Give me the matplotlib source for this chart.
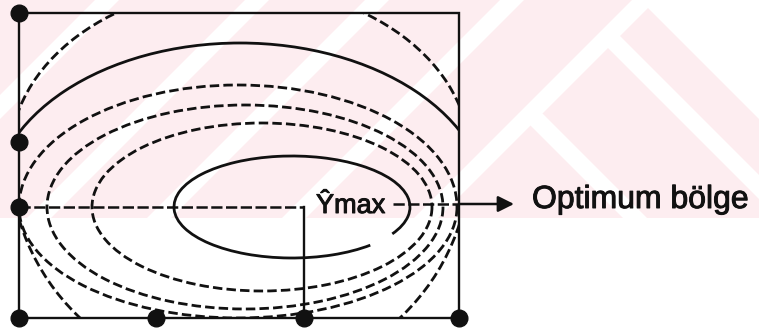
import matplotlib
matplotlib.use('Agg')
import matplotlib.pyplot as plt
import matplotlib.patheffects as pe
from matplotlib.patches import Arc, Rectangle, Polygon

# response surface contours (pixel-like units, y grows downwards)
# centre x, centre y, half width, half height, start/end angle, dashed?
arc_cx = [292, 262, 245, 238, 238, 240, 240, 240]
arc_cy = [207, 207, 207, 207, 207, 207, 157, 157]
arc_rx = [118, 170, 198, 219, 219, 248, 230, 230]
arc_ry = [51, 84, 102, 122, 111, 164, 171, 224]
arc_t1 = [26, 0, 0, 180, 0, 180, 180, 0]
arc_t2 = [15, 360, 360, 360, 180, 360, 360, 180]
arc_dashed = [False, True, True, True, True, False, True, True]

# design points on the frame
pts_x = [19, 19, 19, 19, 156, 304, 459]
pts_y = [13, 142, 207, 318, 318, 318, 318]

box_x = [19, 459]
box_y = [13, 318]

opt_x, opt_y = 304, 207

# faint pink watermark stripes (x + y = c) and (y - x = d)
wm_c = [95, 245, 365, 500, 632]
wm_d = [-560, -405]

ink = '#111111'

fig = plt.figure(figsize=(7.59, 3.31), dpi=100)
ax = fig.add_axes([0, 0, 1, 1])
ax.set_xlim(0, 759)
ax.set_ylim(331, 0)
ax.axis('off')

# watermark
wm_rect = Rectangle((0, 0), 759, 218, facecolor='#fdedf0', edgecolor='none', zorder=0)
ax.add_patch(wm_rect)
for c in wm_c:
    p = Polygon([(c, 0), (c + 24, 0), (c + 24 - 218, 218), (c - 218, 218)],
                facecolor='white', edgecolor='none', zorder=0.5)
    ax.add_patch(p)
    p.set_clip_path(wm_rect)
for d in wm_d:
    x0 = (632 - d) / 2
    p = Polygon([(x0, x0 + d), (x0 + 400, x0 + 400 + d), (x0 + 424, x0 + 400 + d), (x0 + 24, x0 + d)],
                facecolor='white', edgecolor='none', zorder=0.5)
    ax.add_patch(p)
    p.set_clip_path(wm_rect)
ax.add_patch(Polygon([(640, 0), (759, 0), (759, 119)], facecolor='white', edgecolor='none', zorder=0.5))

# frame
frame = Rectangle((box_x[0], box_y[0]), box_x[1] - box_x[0], box_y[1] - box_y[0],
                  fill=False, edgecolor=ink, lw=1.7, zorder=3)
ax.add_patch(frame)

# contours
for i in range(len(arc_cx)):
    ls = (0, (3.4, 1.5)) if arc_dashed[i] else '-'
    a = Arc((arc_cx[i], arc_cy[i]), 2 * arc_rx[i], 2 * arc_ry[i],
            theta1=arc_t1[i], theta2=arc_t2[i], color=ink, lw=2.0, linestyle=ls, zorder=2)
    ax.add_patch(a)
    a.set_clip_path(frame)

# guide lines to the optimum
ax.plot([box_x[0], opt_x], [opt_y, opt_y], color=ink, lw=1.8, linestyle=(0, (4.5, 1.4)), zorder=2)
ax.plot([opt_x, opt_x], [opt_y, box_y[1]], color=ink, lw=1.7, zorder=2)
ax.plot([393, box_x[1]], [204, 204], color=ink, lw=1.8, linestyle=(0, (4.5, 1.4)), zorder=2)
ax.annotate('', xy=(514, 204), xytext=(box_x[1], 204),
            arrowprops=dict(arrowstyle='-|>', lw=1.8, color=ink, mutation_scale=24,
                            shrinkA=0, shrinkB=0), zorder=4)

ax.plot(pts_x, pts_y, 'o', color=ink, markersize=12, zorder=5)

thick = [pe.withStroke(linewidth=0.7, foreground=ink)]
ax.text(316, 206, 'Ŷmax', fontsize=19.5, family='Liberation Sans', va='center', ha='left',
        color=ink, zorder=4, path_effects=thick)
ax.text(532, 200, 'Optimum bölge', fontsize=23, family='Liberation Sans', va='center', ha='left',
        color=ink, zorder=4, path_effects=thick)

fig.savefig('out.png', dpi=100)
